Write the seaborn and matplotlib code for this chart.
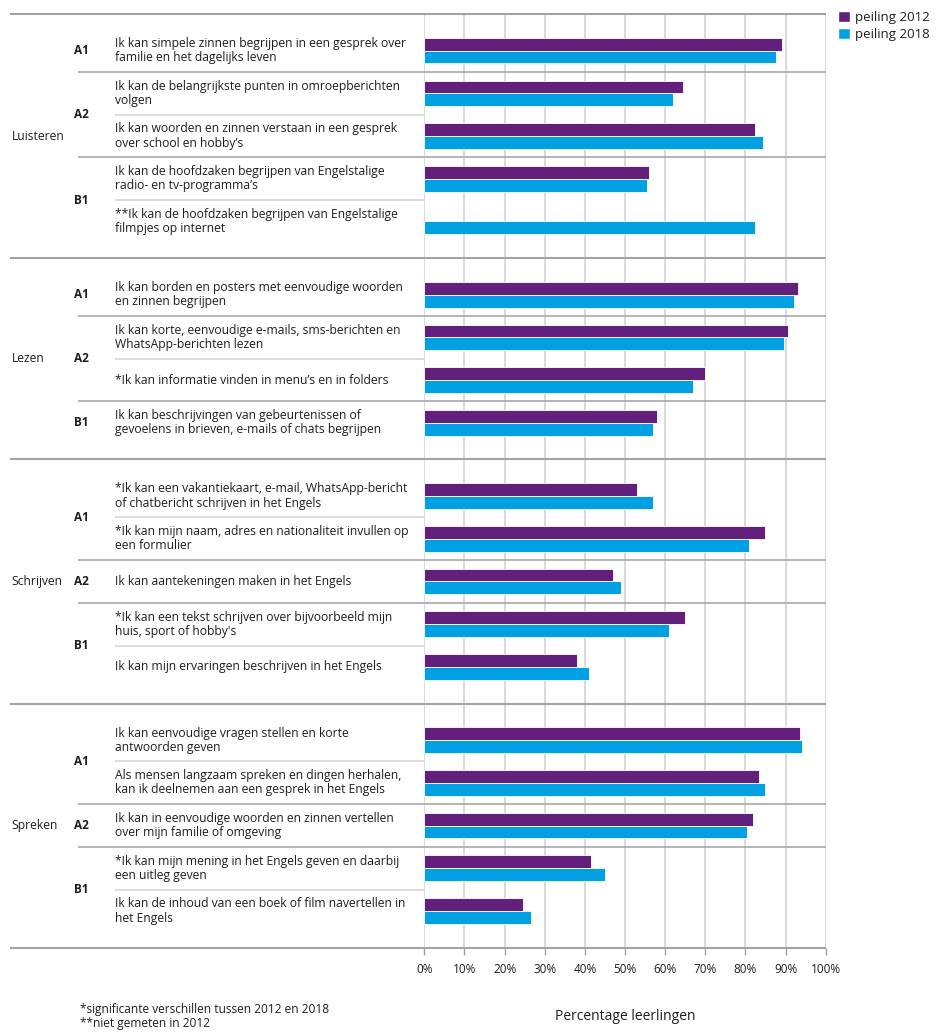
import numpy as np
import pandas as pd
import seaborn as sns
import matplotlib.pyplot as plt
from matplotlib import transforms
from matplotlib.patches import Patch

sns.set_theme(style="white")
plt.rcParams["font.family"] = ["Open Sans", "DejaVu Sans"]

# ---- data -------------------------------------------------------------
skills = ["Luisteren", "Lezen", "Schrijven", "Spreken"]

item_skill = (["Luisteren"] * 5 + ["Lezen"] * 4 +
              ["Schrijven"] * 5 + ["Spreken"] * 5)

item_level = ["A1", "A2", "A2", "B1", "B1",
              "A1", "A2", "A2", "B1",
              "A1", "A1", "A2", "B1", "B1",
              "A1", "A1", "A2", "B1", "B1"]

item_text = [
    "Ik kan simpele zinnen begrijpen in een gesprek over\nfamilie en het dagelijks leven",
    "Ik kan de belangrijkste punten in omroepberichten\nvolgen",
    "Ik kan woorden en zinnen verstaan in een gesprek\nover school en hobby’s",
    "Ik kan de hoofdzaken begrijpen van Engelstalige\nradio- en tv-programma’s",
    "**Ik kan de hoofdzaken begrijpen van Engelstalige\nfilmpjes op internet",
    "Ik kan borden en posters met eenvoudige woorden\nen zinnen begrijpen",
    "Ik kan korte, eenvoudige e-mails, sms-berichten en\nWhatsApp-berichten lezen",
    "*Ik kan informatie vinden in menu’s en in folders",
    "Ik kan beschrijvingen van gebeurtenissen of\ngevoelens in brieven, e-mails of chats begrijpen",
    "*Ik kan een vakantiekaart, e-mail, WhatsApp-bericht\nof chatbericht schrijven in het Engels",
    "*Ik kan mijn naam, adres en nationaliteit invullen op\neen formulier",
    "Ik kan aantekeningen maken in het Engels",
    "*Ik kan een tekst schrijven over bijvoorbeeld mijn\nhuis, sport of hobby's",
    "Ik kan mijn ervaringen beschrijven in het Engels",
    "Ik kan eenvoudige vragen stellen en korte\nantwoorden geven",
    "Als mensen langzaam spreken en dingen herhalen,\nkan ik deelnemen aan een gesprek in het Engels",
    "Ik kan in eenvoudige woorden en zinnen vertellen\nover mijn familie of omgeving",
    "*Ik kan mijn mening in het Engels geven en daarbij\neen uitleg geven",
    "Ik kan de inhoud van een boek of film navertellen in\nhet Engels",
]

peiling_2012 = [89, 64.5, 82.5, 56, np.nan,
                93, 90.5, 70, 58,
                53, 85, 47, 65, 38,
                93.5, 83.5, 82, 41.5, 24.5]

peiling_2018 = [87.5, 62, 84.5, 55.5, 82.5,
                92, 89.5, 67, 57,
                57, 81, 49, 61, 41,
                94, 85, 80.5, 45, 26.5]

series = ["peiling 2012", "peiling 2018"]
x_ticks = list(range(0, 101, 10))

# ---- style ------------------------------------------------------------
PURPLE = "#621F7C"
BLUE = "#00A0E2"
TEXT = "#1e1e1e"
W, H = 941, 1032

# ---- row layout: one unit per statement, extra space between skills ----
pad = 0.857
pos, bounds = [], [0.0]
y = 0.0
for s in skills:
    n = item_skill.count(s)
    y += pad
    pos.extend(y + i for i in range(n))
    y += (n - 1) + pad
    bounds.append(y)
total = y

df = pd.DataFrame({
    "pos": pos * 2,
    "waarde": peiling_2012 + peiling_2018,
    "peiling": [series[0]] * len(pos) + [series[1]] * len(pos),
}).dropna()

fig = plt.figure(figsize=(W / 100, H / 100), dpi=100)
ax = fig.add_axes([424.3 / W, 1 - 947.6 / H, (825.7 - 424.3) / W, (947.6 - 14) / H])
ax.set_axisbelow(True)

sns.barplot(data=df, x="waarde", y="pos", hue="peiling", hue_order=series,
            palette=[PURPLE, BLUE], saturation=1, orient="y", native_scale=True,
            width=0.6, dodge=True, errorbar=None, legend=False,
            edgecolor="white", linewidth=0.6, ax=ax)

ax.set_xlim(0, 100)
ax.set_ylim(total, 0)
ax.set_yticks([])
ax.set_ylabel("")
for sp in ax.spines.values():
    sp.set_visible(False)

ax.grid(axis="x", color="#d9d9d9", lw=1.4)
ax.grid(axis="y", visible=False)
ax.set_xticks(x_ticks)
ax.set_xticklabels([f"{v}%" for v in x_ticks])
ax.tick_params(axis="x", bottom=True, direction="out", length=5, width=1,
               color="#a0a0a0", pad=6, labelsize=8.5, labelcolor=TEXT)
ax.set_xlabel("Percentage leerlingen", fontsize=10, color=TEXT, labelpad=24)

# ---- separators and labels on the left --------------------------------
blend = transforms.blended_transform_factory(fig.transFigure, ax.transData)


def hline(yv, x0, x1, color, lw):
    ax.plot([x0 / W, x1 / W], [yv, yv], transform=blend, color=color,
            lw=lw, clip_on=False, solid_capstyle="butt", zorder=1)


for b in bounds:
    hline(b, 10, 826, "#a3a3a3", 1.5)

for i in range(len(pos) - 1):
    if item_skill[i] != item_skill[i + 1]:
        continue
    mid = (pos[i] + pos[i + 1]) / 2
    if item_level[i] != item_level[i + 1]:
        hline(mid, 78, 826, "#a8a8a8", 1.2)
    else:
        hline(mid, 115, 424, "#d6d6d6", 1.2)

for k, s in enumerate(skills):
    ax.text(11.7 / W, (bounds[k] + bounds[k + 1]) / 2, s, transform=blend,
            ha="left", va="center", fontsize=8.7, color=TEXT)

i = 0
while i < len(pos):
    j = i
    while (j + 1 < len(pos) and item_skill[j + 1] == item_skill[i]
           and item_level[j + 1] == item_level[i]):
        j += 1
    ax.text(74 / W, (pos[i] + pos[j]) / 2, item_level[i], transform=blend,
            ha="left", va="center", fontsize=8.5, fontweight="bold", color=TEXT)
    i = j + 1

for p, t in zip(pos, item_text):
    ax.text(115 / W, p, t, transform=blend, ha="left", va="center",
            fontsize=8.7, color=TEXT, linespacing=1.12)

# ---- legend and footnotes ---------------------------------------------
fig.legend(handles=[Patch(fc=PURPLE), Patch(fc=BLUE)], labels=series,
           loc="upper left", bbox_to_anchor=(838 / W, 1 - 11 / H),
           frameon=False, fontsize=9.5, handlelength=0.9, handleheight=0.9,
           handletextpad=0.4, labelspacing=0.3, borderpad=0, borderaxespad=0,
           labelcolor=TEXT)

fig.text(80 / W, 1 - 1010 / H, "*significante verschillen tussen 2012 en 2018",
         ha="left", va="center", fontsize=8.6, color=TEXT)
fig.text(80 / W, 1 - 1023 / H, "**niet gemeten in 2012",
         ha="left", va="center", fontsize=8.6, color=TEXT)

fig.savefig("out.png", dpi=100)
